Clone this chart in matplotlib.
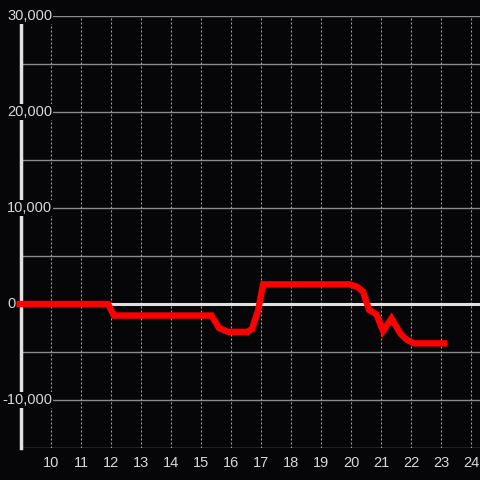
import matplotlib.pyplot as plt
import numpy as np

# series
x_vals = [8.85, 11.9, 12.1, 15.35, 15.6, 15.9, 16.55, 16.7, 16.9, 17.07,
          19.95, 20.2, 20.4, 20.6, 20.85, 21.07, 21.35, 21.65, 21.85, 22.1, 23.2]
y_vals = [0, 0, -1200, -1200, -2500, -2900, -2900, -2600, -700, 2050,
          2050, 1800, 1300, -600, -1100, -2800, -1500, -3100, -3700, -4100, -4100]

x_ticks = list(range(10, 25))
y_ticks = [30000, 20000, 10000, 0, -10000]
y_tick_labels = ["30,000", "20,000", "10,000", "0", "-10,000"]

bg = "#060609"
txt = "#d8d8d8"
plt.rcParams["font.family"] = ["Liberation Sans", "DejaVu Sans"]

fig = plt.figure(figsize=(4.8, 4.8), dpi=100, facecolor=bg)
ax = fig.add_axes([21 / 480, 1 - 448 / 480, 1 - 21 / 480, (448 - 16) / 480])
ax.set_facecolor(bg)

ax.set_xlim(9, 24.3)
ax.set_ylim(-15000, 30000)

# horizontal grid every 5000
for yv in np.arange(-15000, 30001, 5000):
    if yv == 0:
        continue
    ax.axhline(yv, color="#8a8a8a", lw=1, zorder=1)
# vertical dotted grid
for xv in x_ticks:
    ax.axvline(xv, color="#a0a0a0", lw=0.8, ls=(0, (1.8, 1.8)), zorder=1)

ax.axhline(0, color="#e0e0e0", lw=2.2, zorder=2)

for s in ["top", "right", "bottom"]:
    ax.spines[s].set_visible(False)
ax.spines["left"].set_color("#e0e0e0")
ax.spines["left"].set_linewidth(2.5)
ax.spines["left"].set_zorder(3)

ax.plot(x_vals, y_vals, color="#ff0000", lw=4.6, solid_joinstyle="miter",
        solid_capstyle="butt", zorder=6, clip_on=False)

ax.set_xticks(x_ticks)
ax.set_xticklabels([str(v) for v in x_ticks], color=txt, fontsize=10.5)
ax.tick_params(axis="x", length=0, pad=6)
ax.set_yticks([])

# y labels drawn inside with a dark box covering the spine and grid
for yv, lab in zip(y_ticks, y_tick_labels):
    xpx = 2 if lab.startswith("-") else 7
    ax.text((xpx - 21) / 459, yv, lab, transform=ax.get_yaxis_transform(),
            ha="left", va="center", color=txt, fontsize=10.5, zorder=5,
            clip_on=False, bbox=dict(facecolor=bg, edgecolor="none", pad=0.8))

fig.savefig("out.png", dpi=100, facecolor=bg)
